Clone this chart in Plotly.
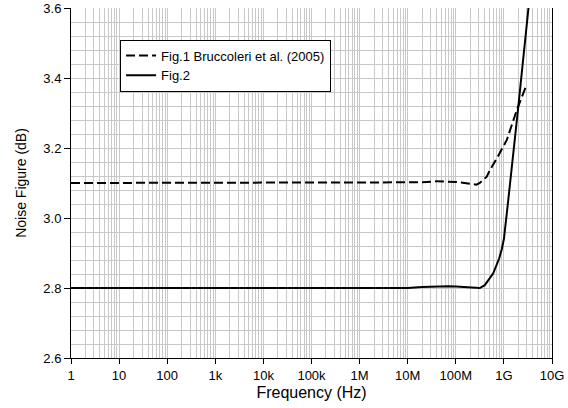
import plotly.graph_objects as go

# Fig.1 Bruccoleri et al. (2005) - dashed
freq1 = [1, 1e6, 1e7, 2e7, 4e7, 7e7, 1e8, 2e8, 2.7e8, 3.16e8, 4.4e8, 5.1e8, 7.1e8, 1.15e9, 1.86e9, 2.95e9]
nf1 = [3.10, 3.10, 3.10, 3.102, 3.105, 3.105, 3.103, 3.098, 3.095, 3.10, 3.118, 3.137, 3.17, 3.223, 3.309, 3.38]

# Fig.2 - solid
freq2 = [1, 1e6, 1e7, 2e7, 4e7, 7e7, 1e8, 2e8, 3.16e8, 4e8, 5e8, 6e8, 7e8, 8e8, 9e8, 1e9,
         1.23e9, 1.6e9, 2e9, 2.5e9, 3.24e9, 3.6e9]
nf2 = [2.80, 2.80, 2.80, 2.803, 2.805, 2.805, 2.804, 2.801, 2.80, 2.808, 2.825, 2.842, 2.865,
       2.885, 2.91, 2.94, 3.05, 3.19, 3.32, 3.45, 3.59, 3.66]

xtick_vals = [1, 1e1, 1e2, 1e3, 1e4, 1e5, 1e6, 1e7, 1e8, 1e9, 1e10]
xtick_text = ["1", "10", "100", "1k", "10k", "100k", "1M", "10M", "100M", "1G", "10G"]

FONT = "Liberation Sans, Arial, sans-serif"
GRID = "#c8c8c8"

fig = go.Figure()
fig.add_trace(go.Scatter(x=freq1, y=nf1, mode="lines", name="Fig.1 Bruccoleri et al. (2005)",
                         line=dict(color="black", width=2, dash="9px,4px")))
fig.add_trace(go.Scatter(x=freq2, y=nf2, mode="lines", name="Fig.2",
                         line=dict(color="black", width=2)))

fig.update_layout(
    width=568, height=408,
    margin=dict(l=71, r=16, t=8, b=50, autoexpand=False),
    paper_bgcolor="white", plot_bgcolor="white",
    font=dict(family=FONT, size=13, color="black"),
    showlegend=True,
    legend=dict(x=0.102, y=0.91, xanchor="left", yanchor="top",
                bgcolor="white", bordercolor="black", borderwidth=1,
                font=dict(family=FONT, size=13, color="black"),
                tracegroupgap=0, itemwidth=30),
)
fig.update_xaxes(
    type="log", range=[0, 10], automargin=False,
    tickvals=xtick_vals, ticktext=xtick_text,
    showgrid=True, gridcolor=GRID, gridwidth=1,
    minor=dict(showgrid=True, gridcolor=GRID, gridwidth=1, dtick="D1"),
    showline=True, linecolor="black", linewidth=1,
    ticks="outside", ticklen=5, tickcolor="black", zeroline=False,
    title=dict(text="Frequency (Hz)", font=dict(family=FONT, size=16), standoff=5),
    tickfont=dict(family=FONT, size=13),
)
fig.update_yaxes(
    range=[2.6, 3.6], dtick=0.2, tickformat=".1f", automargin=False,
    showgrid=True, gridcolor=GRID, gridwidth=1,
    minor=dict(showgrid=True, gridcolor=GRID, gridwidth=1, dtick=0.04),
    showline=True, linecolor="black", linewidth=1, mirror=True,
    ticks="outside", ticklen=6, tickcolor="black",
    zeroline=False,
    title=dict(text="Noise Figure (dB)", font=dict(family=FONT, size=14), standoff=13),
    tickfont=dict(family=FONT, size=13),
)

fig.write_html("out.html", post_script="document.body.style.margin='0';",
               config={"displayModeBar": False})
